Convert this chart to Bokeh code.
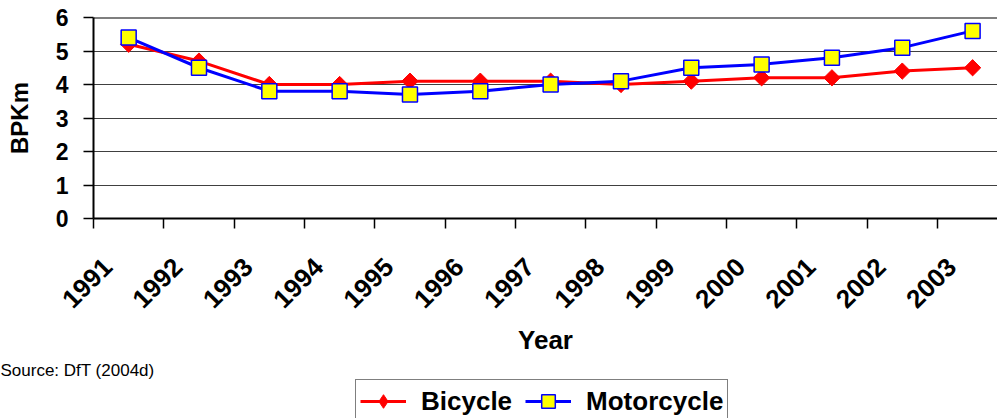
import math
from bokeh.plotting import figure
from bokeh.layouts import column
from bokeh.models import Range1d, FixedTicker, Span, Legend, LegendItem, Title
from bokeh.embed import file_html
from bokeh.resources import INLINE

# ---- data ----
years = ["1991", "1992", "1993", "1994", "1995", "1996", "1997",
         "1998", "1999", "2000", "2001", "2002", "2003"]
bicycle = [5.2, 4.7, 4.0, 4.0, 4.1, 4.1, 4.1, 4.0, 4.1, 4.2, 4.2, 4.4, 4.5]
motorcycle = [5.4, 4.5, 3.8, 3.8, 3.7, 3.8, 4.0, 4.1, 4.5, 4.6, 4.8, 5.1, 5.6]
y_ticks = [0, 1, 2, 3, 4, 5, 6]
x_title = "Year"
y_title = "BPKm"
source_note = "Source: DfT (2004d)"
series_names = ["Bicycle", "Motorcycle"]

FONT = "Liberation Sans"
RED, BLUE, YELLOW = "#FF0000", "#0000FF", "#FFFF00"
xs = list(range(1, len(years) + 1))
label_pos = [x - 0.30 for x in xs]          # rotated labels sit left of centre
boundaries = [x - 0.5 for x in xs] + [xs[-1] + 0.5]

# ---------------- main chart ----------------
p = figure(width=997, height=379, output_backend="svg", toolbar_location=None,
           x_range=Range1d(0.5, 13.354), y_range=Range1d(0, 6),
           min_border_left=93, min_border_right=0, min_border_top=17,
           min_border_bottom=161)
p.outline_line_color = None
p.background_fill_color = "white"
p.border_fill_color = "white"

p.xgrid.visible = False
p.ygrid.ticker = FixedTicker(ticks=y_ticks[1:-1])
p.ygrid.grid_line_color = "#404040"
p.ygrid.grid_line_width = 1
p.add_layout(Span(location=y_ticks[-1], dimension="width", line_color="black", line_width=2))

xa = p.xaxis[0]
xa.ticker = FixedTicker(ticks=label_pos, minor_ticks=boundaries)
xa.major_label_overrides = {k: y for k, y in zip(label_pos, years)}
xa.major_tick_out = 0
xa.major_tick_in = 0
xa.minor_tick_out = 10
xa.minor_tick_in = 0
xa.minor_tick_line_color = "black"
xa.minor_tick_line_width = 1.5
xa.axis_line_color = "black"
xa.axis_line_width = 2
xa.major_label_orientation = math.pi / 4
xa.major_label_text_font = FONT
xa.major_label_text_font_style = "bold"
xa.major_label_text_font_size = "26px"
xa.major_label_text_color = "black"
xa.major_label_standoff = 34
xa.axis_label = x_title
xa.axis_label_text_font = FONT
xa.axis_label_text_font_style = "bold"
xa.axis_label_text_font_size = "26px"
xa.axis_label_text_color = "black"
xa.axis_label_standoff = 6

ya = p.yaxis[0]
ya.ticker = FixedTicker(ticks=y_ticks)
ya.major_tick_out = 10
ya.major_tick_in = 0
ya.major_tick_line_color = "black"
ya.major_tick_line_width = 1.5
ya.minor_tick_line_color = None
ya.axis_line_color = "black"
ya.axis_line_width = 2
ya.major_label_text_font = FONT
ya.major_label_text_font_style = "bold"
ya.major_label_text_font_size = "23px"
ya.major_label_text_color = "black"
ya.major_label_standoff = 15
ya.axis_label = y_title
ya.axis_label_text_font = FONT
ya.axis_label_text_font_style = "bold"
ya.axis_label_text_font_size = "24px"
ya.axis_label_text_color = "black"
ya.axis_label_standoff = 20

p.line(xs, bicycle, line_color=RED, line_width=3)
p.scatter(xs, bicycle, marker="square", angle=math.pi / 4, size=11.5,
          fill_color=RED, line_color=RED)
p.line(xs, motorcycle, line_color=BLUE, line_width=3)
p.scatter(xs, motorcycle, marker="square", size=15,
          fill_color=YELLOW, line_color=BLUE, line_width=1.5)

# source note under the axis, flush with the page's left edge
p.add_layout(Title(text=source_note, align="left", offset=-93, standoff=0,
                   text_font=FONT, text_font_style="normal",
                   text_font_size="17px", text_color="black"), "below")

# ---------------- footer strip: legend ----------------
f = figure(width=997, height=39, output_backend="svg", toolbar_location=None,
           x_range=Range1d(-20, -19), y_range=Range1d(-20, -19),
           x_axis_type=None, y_axis_type=None,
           min_border_left=0, min_border_right=0, min_border_top=0, min_border_bottom=0)
f.outline_line_color = None
f.grid.visible = False
f.background_fill_color = "white"
f.border_fill_color = "white"

# legend keys (same series; drawn outside this strip's visible range)
kb_l = f.line(xs, bicycle, line_color=RED, line_width=3)
kb_m = f.scatter(xs, bicycle, marker="diamond", size=15, fill_color=RED, line_color=RED)
km_l = f.line(xs, motorcycle, line_color=BLUE, line_width=3)
km_m = f.scatter(xs, motorcycle, marker="square", size=15,
                 fill_color=YELLOW, line_color=BLUE, line_width=1.5)

legend = Legend(items=[LegendItem(label=series_names[0], renderers=[kb_l, kb_m]),
                       LegendItem(label=series_names[1], renderers=[km_l, km_m])],
                orientation="horizontal", location=(262, -5),
                label_text_font=FONT, label_text_font_style="bold",
                label_text_font_size="26px", label_text_color="black",
                glyph_width=46, glyph_height=34, label_standoff=15, spacing=13,
                padding=4, margin=0, border_line_color="black", border_line_width=1,
                background_fill_color="white", background_fill_alpha=1)
f.add_layout(legend)

layout = column(p, f, spacing=0)
open("out.html", "w").write(file_html(layout, INLINE))
